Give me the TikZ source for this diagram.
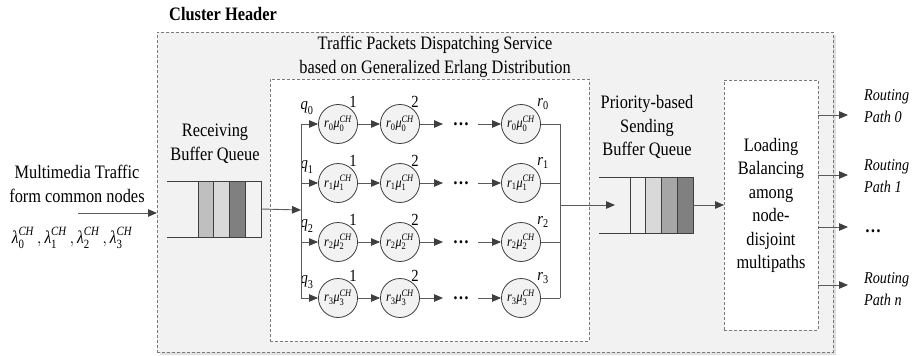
\documentclass[tikz,border=0pt]{standalone}
\usepackage{amsmath}
\usepackage{fontspec}
\setmainfont{Liberation Serif}[FakeStretch=0.86]
\usetikzlibrary{arrows.meta,shapes.geometric,shadows}
\definecolor{linec}{HTML}{5A5A5A}
\definecolor{tipc}{HTML}{3F3F3F}
\definecolor{boxbg}{HTML}{F2F2F2}
\definecolor{dashc}{HTML}{7A7A7A}
\definecolor{cellA}{HTML}{BFBFBF}
\definecolor{cellB}{HTML}{D9D9D9}
\definecolor{cellC}{HTML}{808080}
\definecolor{cellD}{HTML}{F2F2F2}
\definecolor{cellE}{HTML}{A6A6A6}
\newcommand\rmu[1]{$\text{\itshape r}_{\text{#1}}\text{\itshape μ}_{\text{#1}}^{\text{\itshape CH}}$}
\newcommand\lam[1]{\text{\itshape λ}_{\text{#1}}^{\text{\itshape CH}}}
\newcommand\qlab[1]{$\text{\itshape q}_{\text{#1}}$}
\newcommand\rlab[1]{$\text{\itshape r}_{\text{#1}}$}
\begin{document}
\begin{tikzpicture}[x=1pt,y=-1pt,
  txt/.style={font=\fontsize{19}{23.5}\selectfont, align=center, inner sep=0pt},
  itxt/.style={font=\fontsize{16.5}{22}\selectfont\itshape, align=left, inner sep=0pt, anchor=west},
  lab/.style={font=\fontsize{17}{17}\selectfont, inner sep=0pt},
  dbox/.style={draw=dashc, line width=0.8pt, dash pattern=on 3pt off 2pt, inner sep=0pt, outer sep=0pt},
  erl/.style={ellipse, draw=tipc, line width=0.8pt, fill=boxbg, minimum width=34pt, minimum height=39pt, inner sep=0pt, font=\fontsize{14}{14}\selectfont},
  cell/.style={draw=tipc, line width=0.8pt, minimum width=15.75pt, minimum height=56pt, inner sep=0pt, outer sep=0pt},
  qline/.style={draw=tipc, line width=0.8pt},
  wire/.style={draw=linec, line width=0.9pt},
  arr/.style={draw=linec, line width=0.9pt, -{Triangle[length=9pt,width=7.5pt,color=tipc]}},
  dots/.style={font=\fontsize{19}{19}\selectfont\bfseries, inner sep=0pt}
  ]
\useasboundingbox (0,0) rectangle (914,356);
% outer cluster header box
\node[dbox, fill=boxbg, minimum width=676pt, minimum height=320pt,
  drop shadow={shadow xshift=2.5pt, shadow yshift=-2.5pt, fill=black!12, opacity=1}] (ch) at (495,192) {};
\node[txt, font=\fontsize{19}{23.5}\selectfont\bfseries] (chl) at (223,14) {Cluster Header};
% dispatch box
\node[dbox, fill=white, minimum width=319pt, minimum height=262pt] (disp) at (429.5,210) {};
\node[txt] (dispt) at (435,57) {Traffic Packets Dispatching Service\\based on Generalized Erlang Distribution};
% load balancing box
\node[dbox, fill=white, minimum width=94pt, minimum height=250pt] (lb) at (771,205) {};
\node[txt] (lbt) at (771,205.5) {Loading\\Balancing\\among\\node-\\disjoint\\multipaths};
% input
\node[txt] (mmt) at (77,184) {Multimedia Traffic\\form common nodes};
\node[lab, font=\fontsize{18}{18}\selectfont] (lamt) at (72,238) {$\lam{0}\,,\lam{1}\,,\lam{2}\,,\lam{3}$};
\coordinate (in0) at (78,213);
\draw[arr] (in0) -- (ch.west |- in0);
% receiving queue
\node[txt] (rqt) at (215,143.5) {Receiving\\Buffer Queue};
\node[cell, fill=cellA] (rq1) at (205.9,209) {};
\node[cell, fill=cellB] (rq2) at (221.6,209) {};
\node[cell, fill=cellC] (rq3) at (237.4,209) {};
\node[cell, fill=cellD] (rq4) at (253.1,209) {};
\coordinate (rqa) at (167,181);
\coordinate (rqb) at (167,237);
\draw[qline] (rqa) -- (rq4.north east);
\draw[qline] (rqb) -- (rq4.south east);
% bus
\coordinate (bin) at (301,210);
\draw[arr] (rq4.east) -- (bin);
\foreach \i/\y in {0/124,1/183,2/242,3/298}{
  \coordinate (b\i) at (301,\y);
  \node[erl] (c\i a) at (338,\y) {\rmu{\i}};
  \node[erl] (c\i b) at (400,\y) {\rmu{\i}};
  \node[erl] (c\i c) at (521,\y) {\rmu{\i}};
  \coordinate (d\i) at (443,\y);
  \coordinate (e\i) at (478,\y);
  \coordinate (k\i) at (560,\y);
  \node[dots] (p\i) at (461,\y) {…};
  \node[lab] (q\i) at (307,\y-16) {\qlab{\i}};
  \node[lab] (n\i a) at (353,\y-22) {1};
  \node[lab] (n\i b) at (415,\y-22) {2};
  \node[lab] (r\i) at (543,\y-20) {\rlab{\i}};
  \draw[arr] (b\i) -- (c\i a.west);
  \draw[arr] (c\i a.east) -- (c\i b.west);
  \draw[arr] (c\i b.east) -- (d\i);
  \draw[arr] (e\i) -- (c\i c.west);
  \draw[wire] (c\i c.east) -- (k\i);
}
\draw[wire] (b0) -- (b3);
\draw[wire] (k0) -- (k3);
% sending queue
\node[txt] (sqt) at (647,127) {Priority-based\\Sending\\Buffer Queue};
\node[cell, fill=cellD] (sq1) at (637.9,205) {};
\node[cell, fill=cellB] (sq2) at (653.6,205) {};
\node[cell, fill=cellE] (sq3) at (669.4,205) {};
\node[cell, fill=cellC] (sq4) at (685.1,205) {};
\coordinate (sqa) at (599,177);
\coordinate (sqb) at (599,233);
\draw[qline] (sqa) -- (sq4.north east);
\draw[qline] (sqb) -- (sq4.south east);
\coordinate (ko) at (560,205);
\coordinate (sin) at (615,205);
\draw[arr] (ko) -- (sin);
\draw[arr] (sq4.east) -- (lb.west);
% outputs
\foreach \i/\y in {0/115,1/175,2/227,3/285}{
  \coordinate (t\i) at (848,\y);
  \draw[arr] (lb.east |- t\i) -- (t\i);
}
\node[itxt] (rp0) at (864,106) {Routing\\Path 0};
\node[itxt] (rp1) at (864,176.5) {Routing\\Path 1};
\node[dots] (rpd) at (873,231) {…};
\node[itxt] (rpn) at (864,289) {Routing\\Path n};
\end{tikzpicture}
\end{document}
